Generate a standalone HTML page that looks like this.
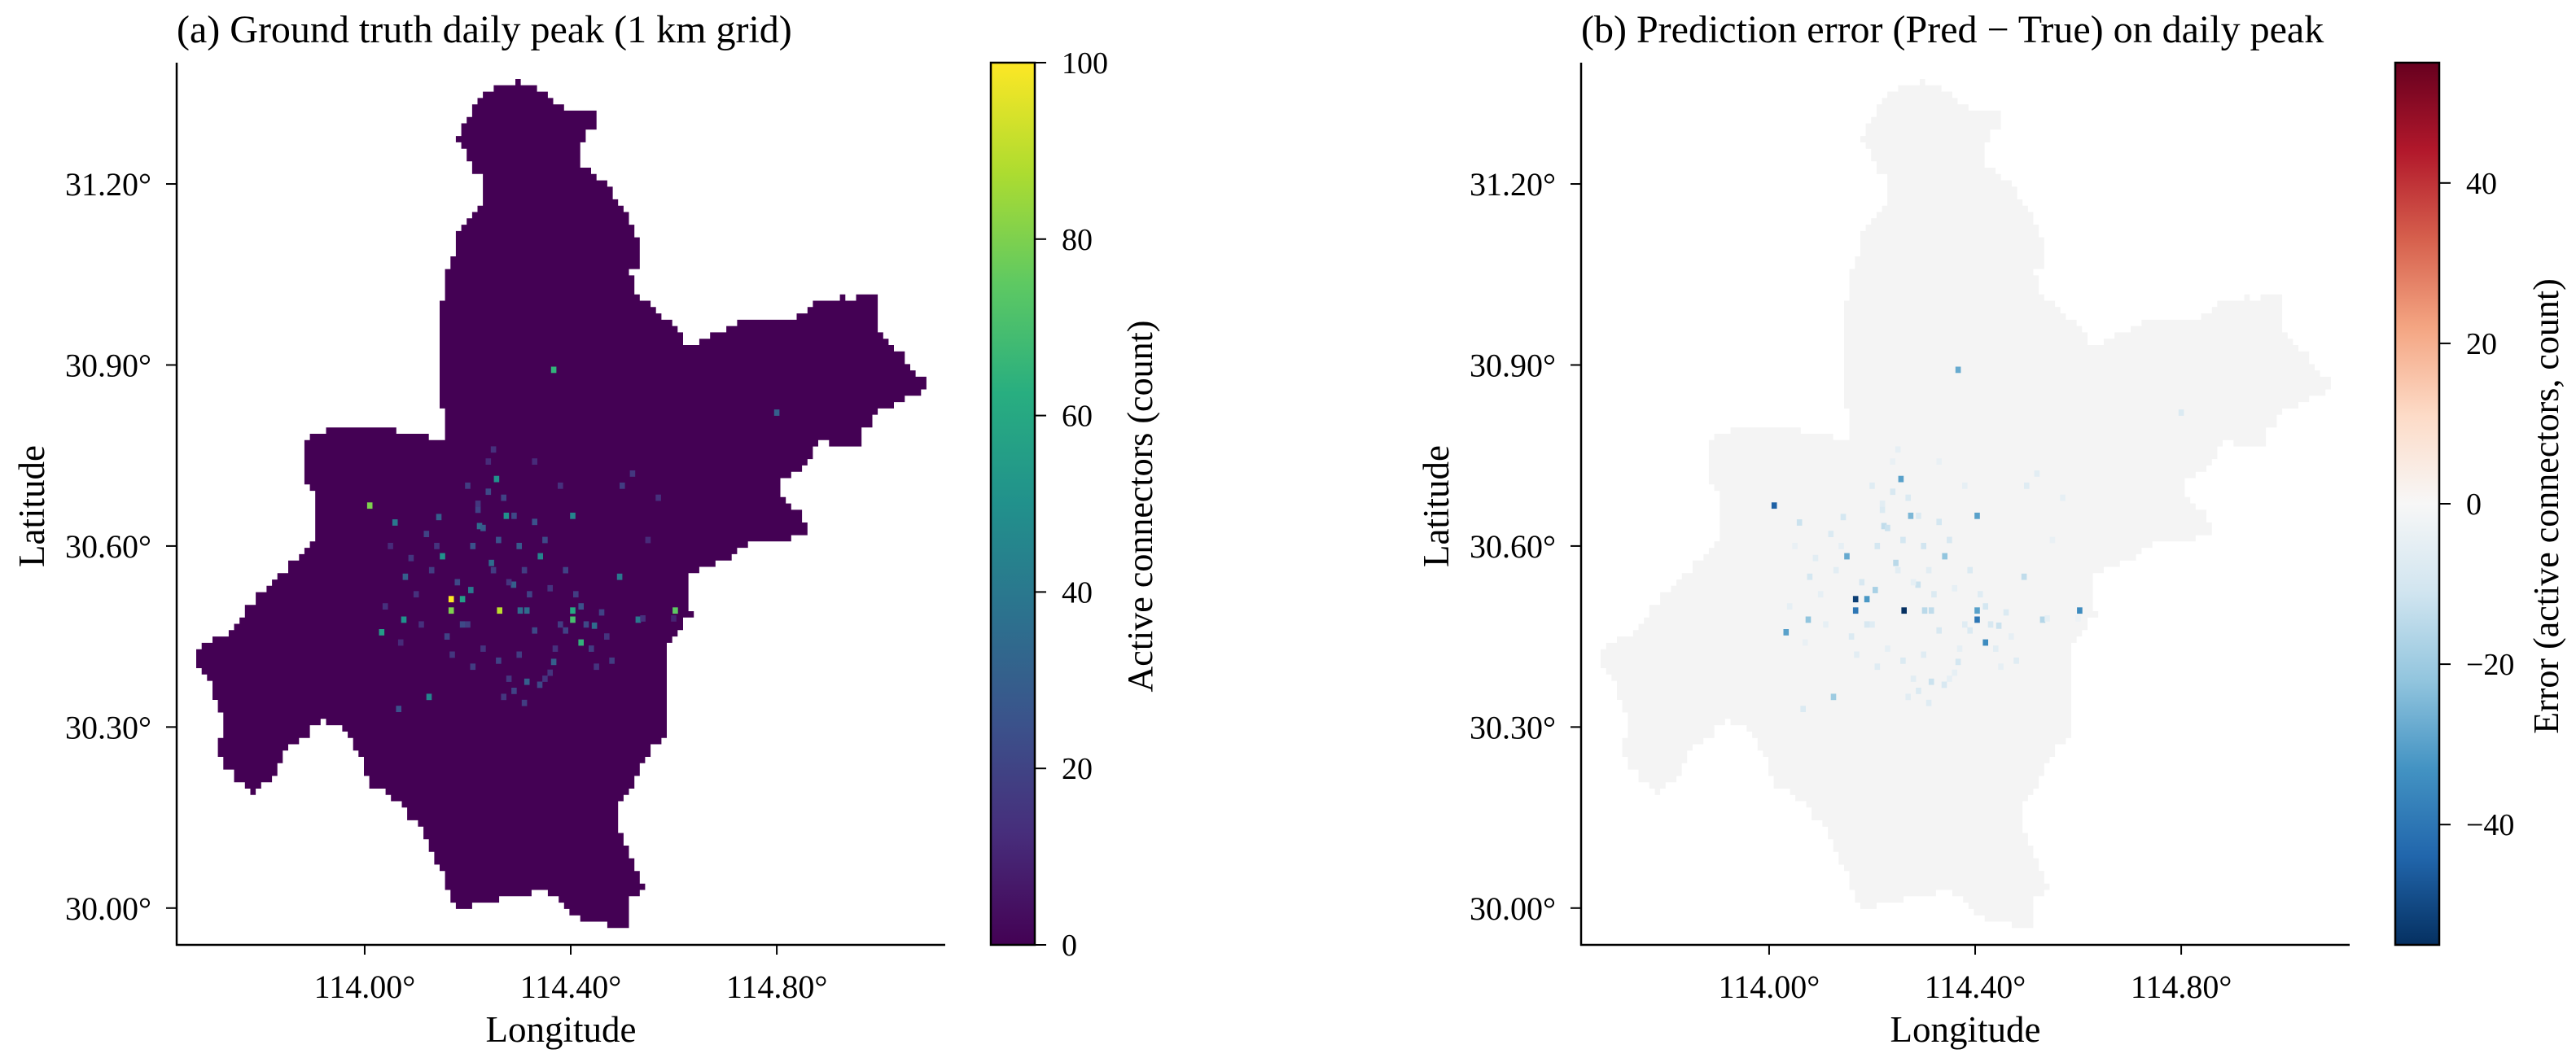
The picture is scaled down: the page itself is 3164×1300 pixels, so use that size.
<!DOCTYPE html>
<html><head><meta charset="utf-8">
<style>
html,body{margin:0;padding:0;background:#fff;}
svg{display:block;}
text{font-family:"Liberation Serif",serif;fill:#000;}
</style></head>
<body>
<svg id="fig" width="3164" height="1300" viewBox="0 0 3164 1300" xmlns="http://www.w3.org/2000/svg">
<defs>
<linearGradient id="viridisGrad" x1="0" y1="1" x2="0" y2="0">
<stop offset="0" stop-color="#440154"/><stop offset="0.125" stop-color="#472d7b"/><stop offset="0.25" stop-color="#3b528b"/><stop offset="0.375" stop-color="#2c728e"/><stop offset="0.5" stop-color="#21918c"/><stop offset="0.625" stop-color="#28ae80"/><stop offset="0.75" stop-color="#5ec962"/><stop offset="0.875" stop-color="#addc30"/><stop offset="1" stop-color="#fde725"/>
</linearGradient>
<linearGradient id="rdbuGrad" x1="0" y1="1" x2="0" y2="0">
<stop offset="0" stop-color="#053061"/><stop offset="0.1" stop-color="#2166ac"/><stop offset="0.2" stop-color="#4393c3"/><stop offset="0.3" stop-color="#92c5de"/><stop offset="0.4" stop-color="#d1e5f0"/><stop offset="0.5" stop-color="#f7f7f7"/><stop offset="0.6" stop-color="#fddbc7"/><stop offset="0.7" stop-color="#f4a582"/><stop offset="0.8" stop-color="#d6604d"/><stop offset="0.9" stop-color="#b2182b"/><stop offset="1" stop-color="#67001f"/>
</linearGradient>
</defs>
</svg>
<script>
// Boundary of the grid region (lon, lat)
const boundaryLon = [114.236,114.289,114.308,114.341,114.380,114.446,114.446,114.426,114.420,114.446,114.472,114.485,114.518,114.525,114.538,114.518,114.525,114.551,114.577,114.603,114.623,114.656,114.734,114.800,114.852,114.866,114.918,114.938,114.971,114.997,114.997,115.036,115.069,115.095,115.095,115.062,115.036,115.003,114.990,114.964,114.964,114.918,114.885,114.866,114.852,114.807,114.813,114.846,114.859,114.826,114.774,114.734,114.708,114.669,114.630,114.630,114.636,114.623,114.603,114.584,114.590,114.584,114.551,114.525,114.498,114.492,114.531,114.544,114.518,114.518,114.466,114.420,114.380,114.341,114.289,114.230,114.197,114.164,114.157,114.131,114.111,114.079,114.052,114.013,114.000,113.974,113.954,113.928,113.908,113.869,113.843,113.830,113.803,113.790,113.751,113.725,113.718,113.725,113.705,113.698,113.672,113.670,113.692,113.744,113.770,113.790,113.816,113.843,113.869,113.908,113.902,113.908,113.882,113.889,113.934,113.974,114.000,114.079,114.151,114.157,114.144,114.144,114.157,114.177,114.184,114.223,114.230,114.210,114.190,114.177,114.197,114.230];
const boundaryLat = [31.355,31.371,31.362,31.355,31.327,31.316,31.293,31.282,31.232,31.215,31.198,31.170,31.137,31.120,31.069,31.047,31.013,30.997,30.980,30.963,30.935,30.941,30.974,30.971,30.985,31.002,31.013,31.002,31.022,31.021,30.952,30.918,30.885,30.879,30.859,30.846,30.834,30.829,30.807,30.790,30.762,30.767,30.779,30.745,30.723,30.711,30.672,30.650,30.622,30.611,30.611,30.594,30.577,30.566,30.549,30.499,30.482,30.471,30.449,30.437,30.342,30.286,30.247,30.208,30.175,30.135,30.051,30.029,30.007,29.968,29.973,29.984,30.018,30.029,30.018,30.007,29.996,30.018,30.057,30.096,30.135,30.163,30.191,30.202,30.242,30.281,30.298,30.309,30.298,30.275,30.253,30.219,30.197,30.191,30.219,30.236,30.270,30.320,30.359,30.387,30.398,30.421,30.443,30.460,30.499,30.521,30.544,30.555,30.588,30.611,30.639,30.678,30.723,30.784,30.795,30.803,30.795,30.790,30.773,30.790,30.890,30.969,31.058,31.092,31.137,31.159,31.215,31.226,31.265,31.276,31.310,31.349];
// Non-zero grid cells
const cellLon = [114.168,114.168,114.262,114.010,114.603,114.367,114.404,114.404,114.420,114.033,114.076,114.256,114.275,114.404,114.190,114.151,114.341,114.125,114.800,114.495,114.531,114.246,114.206,114.289,114.315,114.059,114.079,114.066,114.315,114.367,114.446,114.223,114.144,114.302,
114.120,114.130,114.140,114.180,114.200,114.210,114.220,114.230,114.240,114.250,114.260,114.270,114.280,114.290,114.300,114.310,114.320,114.330,114.350,114.360,114.380,114.390,114.420,114.430,114.440,114.460,114.470,114.480,114.100,114.090,114.050,114.040,114.160,114.170,114.190,114.210,114.230,114.260,114.280,114.300,114.330,114.350,114.370,114.390,114.410,114.450,114.500,114.520,114.550,114.570,114.270,114.290,114.310,114.340,114.360,114.380,114.200,114.220,114.240,114.110,114.070,114.600,114.540,114.250,114.330];
const cellLat = [30.512,30.493,30.493,30.667,30.493,30.892,30.493,30.478,30.440,30.457,30.478,30.711,30.650,30.650,30.512,30.583,30.583,30.350,30.821,30.549,30.478,30.572,30.527,30.536,30.493,30.639,30.549,30.330,30.375,30.408,30.468,30.633,30.648,30.493,
30.620,30.560,30.600,30.540,30.470,30.600,30.660,30.630,30.690,30.560,30.610,30.680,30.540,30.650,30.600,30.560,30.520,30.640,30.610,30.530,30.470,30.560,30.500,30.470,30.430,30.490,30.450,30.410,30.520,30.580,30.600,30.500,30.450,30.420,30.470,30.400,30.430,30.410,30.380,30.420,30.460,30.380,30.430,30.460,30.520,30.400,30.700,30.720,30.610,30.680,30.350,30.360,30.340,30.370,30.390,30.700,30.700,30.670,30.740,30.470,30.440,30.480,30.480,30.760,30.740];
const cellTruth = [100,80,90,80,75,65,60,70,65,55,50,50,50,45,55,50,45,45,30,40,40,35,40,30,35,40,30,25,30,30,35,35,30,35,
20,18,15,22,18,25,20,28,22,18,25,20,15,22,28,18,20,25,22,15,18,20,25,22,18,20,15,18,14,16,12,14,20,16,22,18,15,20,16,18,22,15,14,20,18,15,18,16,12,14,16,20,18,22,15,14,18,16,12,14,12,10,14,14,12];
const cellError = [-52,-40,-55,-45,-35,-28,-30,-40,-35,-30,-22,-30,-25,-30,-32,-28,-22,-20,-8,-14,-16,-15,-18,-12,-14,-12,-10,-8,-12,-10,-12,-14,-10,-15,
-8,-6,-5,-9,-7,-10,-8,-12,-9,-6,-10,-8,-5,-8,-11,-6,-8,-10,-9,-5,-7,-8,-10,-9,-6,-8,-5,-7,-5,-6,-4,-5,-8,-6,-9,-7,-5,-8,-6,-7,-9,-5,-5,-8,-7,-5,-7,-6,-4,-5,-6,-8,-7,-9,-5,-5,-7,-6,-4,-5,-4,-3,-5,-5,-4];
const lonTicks = [114.0,114.4,114.8];
const lonTickLabels = ["114.00°","114.40°","114.80°"];
const latTicks = [30.0,30.3,30.6,30.9,31.2];
const latTickLabels = ["30.00°","30.30°","30.60°","30.90°","31.20°"];
const cbTicksA = [0,20,40,60,80,100];
const cbTicksB = [-40,-20,0,20,40];

const NS = "http://www.w3.org/2000/svg";
const svg = document.getElementById('fig');
function mk(tag, attrs, parent){const e=document.createElementNS(NS,tag);for(const k in attrs)e.setAttribute(k,attrs[k]);(parent||svg).appendChild(e);return e;}

const LON0=113.635, LON1=115.127, LAT0=29.939, LAT1=31.401;
const AX_T=77, AX_B=1161, AXW=944;
const CELL=0.0105;
function xScale(off,lon){return off+217+(lon-LON0)/(LON1-LON0)*AXW;}
function yScale(lat){return AX_B-(lat-LAT0)/(LAT1-LAT0)*(AX_B-AX_T);}

// staircase boundary snapped to cell grid
function stairPts(off){
  const snap=v=>Math.round(v/CELL)*CELL;
  const out=[];let px=null,py=null;
  const n=boundaryLon.length;
  for(let i=0;i<n;i++){
    const a=[boundaryLon[i],boundaryLat[i]], b=[boundaryLon[(i+1)%n],boundaryLat[(i+1)%n]];
    const steps=Math.max(1,Math.ceil(Math.max(Math.abs(b[0]-a[0]),Math.abs(b[1]-a[1]))/CELL));
    for(let s=0;s<steps;s++){
      const x=snap(a[0]+(b[0]-a[0])*s/steps), y=snap(a[1]+(b[1]-a[1])*s/steps);
      if(px!==null && (x!==px && y!==py)) out.push([x,py]);
      if(x!==px||y!==py) out.push([x,y]);
      px=x;py=y;
    }
  }
  return out.map(p=>xScale(off,p[0]).toFixed(1)+','+yScale(p[1]).toFixed(1)).join(' ');
}

function lerpStops(stops,t){t=Math.max(0,Math.min(1,t));const n=stops.length-1;const i=Math.min(n-1,Math.floor(t*n));const f=t*n-i;const a=stops[i],b=stops[i+1];
const h=s=>[parseInt(s.slice(1,3),16),parseInt(s.slice(3,5),16),parseInt(s.slice(5,7),16)];const A=h(a),B=h(b);
return 'rgb('+A.map((v,k)=>Math.round(v+(B[k]-v)*f)).join(',')+')';}
const VIR=["#440154","#472d7b","#3b528b","#2c728e","#21918c","#28ae80","#5ec962","#addc30","#fde725"];
const RDBU=["#053061","#2166ac","#4393c3","#92c5de","#d1e5f0","#f7f7f7","#fddbc7","#f4a582","#d6604d","#b2182b","#67001f"];

function panel(off, key, title, fill, vals, colorFn, cbGrad, cbTicks, cbMin, cbMax, cbLabel, tickFmt, cbLabelDx){
  const g=mk('g',{});
  
  
  const t=mk('text',{x:off+217,y:52,'font-size':48},g); t.textContent=title;
  
  
  const poly=mk('polygon',{points:stairPts(off),fill:fill},g);
  
  
  const cw=CELL/(LON1-LON0)*AXW, ch=CELL/(LAT1-LAT0)*(AX_B-AX_T);
  for(let i=0;i<cellLon.length;i++){
    const r=mk('rect',{x:(xScale(off,cellLon[i])-cw/2).toFixed(1),y:(yScale(cellLat[i])-ch/2).toFixed(1),width:cw.toFixed(1),height:ch.toFixed(1),fill:colorFn(vals[i])},g);
    
    
  }
  const sl=mk('line',{x1:off+217,y1:AX_T,x2:off+217,y2:AX_B+1,stroke:'#000','stroke-width':2.5},g);
  
  
  const sb=mk('line',{x1:off+216,y1:AX_B,x2:off+217+AXW,y2:AX_B,stroke:'#000','stroke-width':2.5},g);
  
  
  lonTicks.forEach((v,i)=>{const x=xScale(off,v);
    mk('line',{x1:x,y1:AX_B,x2:x,y2:AX_B+12,stroke:'#000','stroke-width':2},g);
    const tx=mk('text',{x:x,y:1226,'font-size':40,'text-anchor':'middle'},g);tx.textContent=lonTickLabels[i];
    
    });
  latTicks.forEach((v,i)=>{const y=yScale(v);
    mk('line',{x1:off+204,y1:y,x2:off+217,y2:y,stroke:'#000','stroke-width':2},g);
    const tx=mk('text',{x:off+186,y:y+14,'font-size':40,'text-anchor':'end'},g);tx.textContent=latTickLabels[i];
    
    });
  const xl=mk('text',{x:off+689,y:1280,'font-size':45,'text-anchor':'middle'},g);xl.textContent='Longitude';
  
  
  const yl=mk('text',{x:0,y:0,'font-size':45,'text-anchor':'middle',transform:'translate('+(off+54)+',622) rotate(-90)'},g);yl.textContent='Latitude';
  
  
  const cbx=off+1217, cbw=54;
  const cb=mk('rect',{x:cbx,y:AX_T,width:cbw,height:AX_B-AX_T,fill:'url(#'+cbGrad+')',stroke:'#000','stroke-width':2.5},g);
  
  
  cbTicks.forEach(v=>{const y=AX_B-(v-cbMin)/(cbMax-cbMin)*(AX_B-AX_T);
    mk('line',{x1:cbx+cbw,y1:y,x2:cbx+cbw+14,y2:y,stroke:'#000','stroke-width':2},g);
    const tx=mk('text',{x:cbx+cbw+33,y:y+13,'font-size':38},g);tx.textContent=tickFmt(v);
    
    });
  const cl=mk('text',{x:0,y:0,'font-size':44,'text-anchor':'middle',transform:'translate('+(cbx+cbLabelDx)+',622) rotate(-90)'},g);cl.textContent=cbLabel;
  
  
}
panel(0,'a','(a) Ground truth daily peak (1 km grid)','#440154',cellTruth,v=>lerpStops(VIR,v/100),'viridisGrad',cbTicksA,0,100,'Active connectors (count)',v=>String(v),198);
panel(1725,'b','(b) Prediction error (Pred \u2212 True) on daily peak','#f4f4f4',cellError,v=>lerpStops(RDBU,(v+55)/110),'rdbuGrad',cbTicksB,-55,55,'Error (active connectors, count)',v=>v<0?'\u2212'+(-v):String(v),200);
</script>
</body></html>
